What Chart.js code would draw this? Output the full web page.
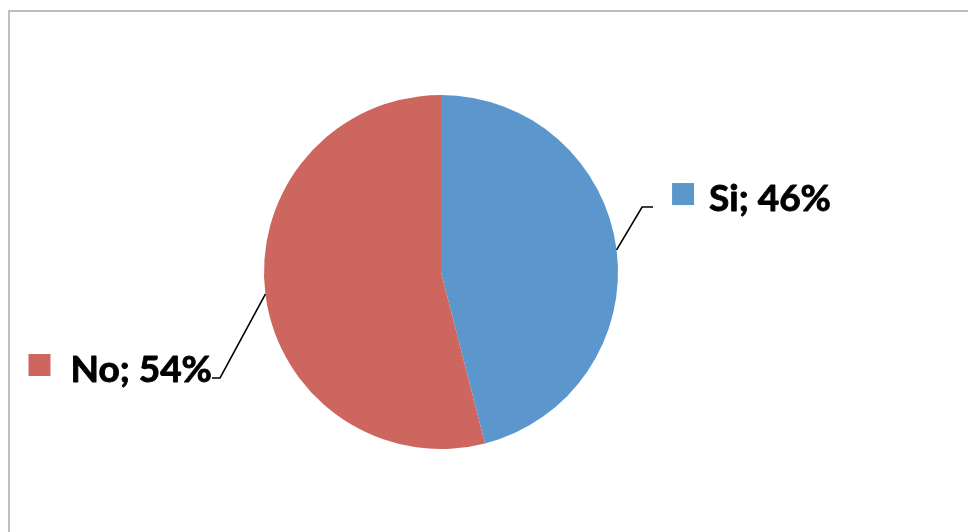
<!DOCTYPE html>
<html>
<head>
<meta charset="utf-8">
<script src="https://cdn.jsdelivr.net/npm/chart.js@4/dist/chart.umd.min.js"></script>
<style>
  html, body { margin: 0; padding: 0; background: #fff; }
  #wrap { width: 968px; height: 532px; position: relative; }
</style>
</head>
<body>
<div id="wrap"><canvas id="pieChart" width="968" height="532"></canvas></div>
<script>
// Answers and their share in percent
const categories = ['Si', 'No'];
const percentages = [46, 54];
const sliceColors = ['#5B96CC', '#CD665E'];

// Label placement per slice, in units of the pie radius from its centre
const labelLayout = [
    { elbow: [1.136, -0.367], side: 'right' },
    { elbow: [-1.249, 0.599], side: 'left' }
];

// Grey frame around the chart area
const framePlugin = {
    id: 'frame',
    beforeDraw(chart) {
        const ctx = chart.ctx;
        ctx.save();
        ctx.fillStyle = '#ffffff';
        ctx.fillRect(0, 0, chart.width, chart.height);
        ctx.strokeStyle = '#bfbfbf';
        ctx.lineWidth = 2;
        ctx.strokeRect(9, 11, chart.width + 10, chart.height + 10);
        ctx.restore();
    }
};

// "Name; NN%" labels with a colour square and a leader line to the slice
const sliceLabels = {
    id: 'sliceLabels',
    afterDatasetsDraw(chart) {
        const ctx = chart.ctx;
        const meta = chart.getDatasetMeta(0);
        ctx.save();
        ctx.font = 'bold 37px Lato, "Open Sans", sans-serif';
        ctx.textBaseline = 'alphabetic';
        meta.data.forEach((arc, i) => {
            const p = arc.getProps(['x', 'y', 'startAngle', 'endAngle', 'outerRadius'], true);
            const r = p.outerRadius;
            const mid = (p.startAngle + p.endAngle) / 2;
            const ex = p.x + Math.cos(mid) * r;
            const ey = p.y + Math.sin(mid) * r;
            const lay = labelLayout[i];
            const bx = p.x + lay.elbow[0] * r;
            const by = p.y + lay.elbow[1] * r;
            const text = categories[i] + '; ' + percentages[i] + '%';
            const tw = ctx.measureText(text).width;
            const sq = 22;

            let hx, sqX, tx;
            if (lay.side === 'right') {
                hx = bx + 11;
                sqX = bx + 30;
                tx = sqX + sq + 15;
            } else {
                hx = bx - 8;
                tx = hx - tw;
                sqX = tx - 20 - sq;
            }

            // leader line
            ctx.strokeStyle = '#000';
            ctx.lineWidth = 1.6;
            ctx.beginPath();
            ctx.moveTo(ex, ey);
            ctx.lineTo(bx, by);
            ctx.lineTo(hx, by);
            ctx.stroke();

            // colour key
            ctx.fillStyle = sliceColors[i];
            ctx.fillRect(sqX, by - 24, sq, sq);

            // text, with a thin outline to make it a little heavier
            ctx.fillStyle = '#000';
            ctx.strokeStyle = '#000';
            ctx.lineWidth = 0.9;
            ctx.lineJoin = 'round';
            ctx.textAlign = 'left';
            ctx.fillText(text, tx, by + 4);
            ctx.strokeText(text, tx, by + 4);
        });
        ctx.restore();
    }
};

const ctx = document.getElementById('pieChart').getContext('2d');
new Chart(ctx, {
    type: 'pie',
    data: {
        labels: categories,
        datasets: [{
            data: percentages,
            backgroundColor: sliceColors,
            borderWidth: 0
        }]
    },
    options: {
        responsive: false,
        animation: false,
        layout: {
            padding: { top: 95, bottom: 83, left: 264, right: 350 }
        },
        plugins: {
            legend: { display: false },
            tooltip: { enabled: false }
        }
    },
    plugins: [framePlugin, sliceLabels]
});
</script>
</body>
</html>
